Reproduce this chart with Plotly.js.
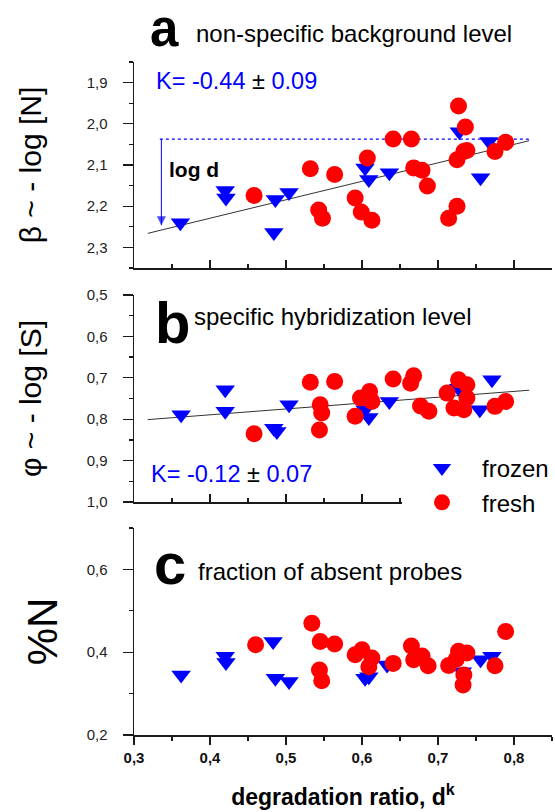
<!DOCTYPE html>
<html>
<head>
<meta charset="utf-8">
<script src="https://cdn.plot.ly/plotly-3.0.1.min.js"></script>
<style>html,body{margin:0;padding:0;background:#fff;}#chart{width:555px;height:812px;}</style>
</head>
<body>
<div id="chart"></div>
<script>
// ---------- data ----------
// panel a : beta ~ -log[N]
const xA_frozen = [0.361, 0.420, 0.421, 0.484, 0.486, 0.504, 0.604, 0.609, 0.636, 0.728, 0.756, 0.767];
const yA_frozen = [2.240, 2.162, 2.180, 2.264, 2.184, 2.167, 2.107, 2.135, 2.119, 2.019, 2.131, 2.043];
const xA_fresh = [0.458, 0.532, 0.564, 0.543, 0.548, 0.591, 0.599, 0.613, 0.607, 0.641, 0.665, 0.668, 0.679, 0.686, 0.714, 0.725, 0.727, 0.736, 0.725, 0.734, 0.738, 0.775, 0.789];
const yA_fresh = [2.174, 2.109, 2.123, 2.209, 2.229, 2.180, 2.214, 2.234, 2.083, 2.037, 2.037, 2.107, 2.113, 2.151, 2.229, 2.200, 1.957, 2.008, 2.087, 2.067, 2.065, 2.067, 2.045];
const fitX = [0.318, 0.820];
const fitA = [2.266, 2.041];
const refLineX = [0.334, 0.820];
const refLineY = [2.037, 2.037];
const arrowX = [0.336, 0.336];
const arrowY = [2.037, 2.246];

// panel b : phi ~ -log[S]
const xB_frozen = [0.362, 0.420, 0.420, 0.484, 0.488, 0.504, 0.604, 0.609, 0.636, 0.727, 0.755, 0.771];
const yB_frozen = [0.789, 0.729, 0.781, 0.822, 0.830, 0.765, 0.777, 0.796, 0.757, 0.725, 0.777, 0.705];
const xB_fresh = [0.458, 0.532, 0.564, 0.545, 0.547, 0.544, 0.591, 0.598, 0.610, 0.613, 0.641, 0.668, 0.664, 0.677, 0.688, 0.712, 0.727, 0.738, 0.721, 0.734, 0.738, 0.775, 0.789];
const yB_fresh = [0.835, 0.711, 0.709, 0.765, 0.785, 0.826, 0.793, 0.749, 0.733, 0.757, 0.703, 0.695, 0.713, 0.768, 0.781, 0.737, 0.705, 0.717, 0.773, 0.777, 0.749, 0.769, 0.757];
const fitB = [0.801, 0.730];

// panel c : %N
const xC_frozen = [0.362, 0.420, 0.421, 0.483, 0.486, 0.504, 0.604, 0.609, 0.633, 0.732, 0.756, 0.771];
const yC_frozen = [0.345, 0.390, 0.375, 0.426, 0.337, 0.329, 0.337, 0.341, 0.369, 0.353, 0.382, 0.390];
const xC_fresh = [0.460, 0.534, 0.545, 0.564, 0.544, 0.547, 0.591, 0.600, 0.613, 0.609, 0.641, 0.665, 0.668, 0.679, 0.687, 0.714, 0.727, 0.738, 0.724, 0.734, 0.733, 0.775, 0.789];
const yC_fresh = [0.418, 0.470, 0.426, 0.420, 0.357, 0.331, 0.394, 0.406, 0.386, 0.365, 0.373, 0.415, 0.382, 0.391, 0.367, 0.368, 0.402, 0.398, 0.383, 0.345, 0.321, 0.367, 0.450];

const seriesNames = ['frozen', 'fresh'];
const kTextA = 'K= -0.44 <span style="color:#000">±</span> 0.09';
const kTextB = 'K= -0.12 <span style="color:#000">±</span> 0.07';

// ---------- styles ----------
const FONT = 'Liberation Sans, Arial, sans-serif';
const BLUE = '#0000ff', RED = '#ff0000', AXC = '#1a1a1a';
const TRI = {symbol: 'triangle-down', size: 17, color: BLUE};
const CIR = {symbol: 'circle', size: 17, color: RED};

function fitTrace(x, y, ax) {
  return {x: x, y: y, xaxis: ax[0], yaxis: ax[1], mode: 'lines', line: {color: '#333', width: 1}, showlegend: false, hoverinfo: 'skip'};
}
function pts(x, y, ax, i, show) {
  return {x: x, y: y, xaxis: ax[0], yaxis: ax[1], mode: 'markers', name: seriesNames[i],
    legendgroup: seriesNames[i], showlegend: show, marker: i === 0 ? TRI : CIR};
}
const A = ['x', 'y'], B = ['x2', 'y2'], C = ['x3', 'y3'];

const traces = [
  fitTrace(fitX, fitA, A),
  {x: refLineX, y: refLineY, xaxis: 'x', yaxis: 'y', mode: 'lines', line: {color: BLUE, width: 1.2, dash: 'dot'}, showlegend: false, hoverinfo: 'skip'},
  {x: arrowX, y: arrowY, xaxis: 'x', yaxis: 'y', mode: 'lines+markers', line: {color: BLUE, width: 1},
    marker: {symbol: ['circle', 'arrow-down'], size: [0, 9], color: BLUE, line: {width: 0}}, showlegend: false, hoverinfo: 'skip'},
  pts(xA_frozen, yA_frozen, A, 0, true),
  pts(xA_fresh, yA_fresh, A, 1, true),
  fitTrace(fitX, fitB, B),
  pts(xB_frozen, yB_frozen, B, 0, false),
  pts(xB_fresh, yB_fresh, B, 1, false),
  pts(xC_frozen, yC_frozen, C, 0, false),
  pts(xC_fresh, yC_fresh, C, 1, false)
];

const H = 812;
function dom(topPx, botPx) { return [1 - botPx / H, 1 - topPx / H]; }

function xax(anchor, ticksDir, labels) {
  const a = {
    anchor: anchor, domain: [0, 1], range: [0.3, 0.85],
    showline: true, linecolor: AXC, linewidth: 1.5, mirror: false,
    showgrid: false, zeroline: false,
    tick0: 0.3, dtick: 0.1, ticks: ticksDir, ticklen: 8, tickwidth: 1.3, tickcolor: AXC,
    minor: {dtick: 0.05, tick0: 0.3, ticks: ticksDir, ticklen: 4, tickwidth: 1.3, tickcolor: AXC},
    showticklabels: labels, tickformat: '.1f',
    tickfont: {family: FONT, size: 15, color: '#111', weight: 'bold'},
    automargin: false
  };
  if (anchor !== 'y') a.matches = 'x';
  return a;
}
function yax(domain, range, tick0, dtick, minorD, title, tsize, standoff) {
  return {
    domain: domain, range: range, anchor: 'x',
    showline: true, linecolor: AXC, linewidth: 1.5,
    showgrid: false, zeroline: false,
    tick0: tick0, dtick: dtick, ticks: 'outside', ticklen: 10, tickwidth: 1.3, tickcolor: AXC,
    minor: {dtick: minorD, tick0: tick0, ticks: 'outside', ticklen: 4, tickwidth: 1.3, tickcolor: AXC},
    tickformat: '.1f', ticklabelstandoff: 12,
    tickfont: {family: FONT, size: 15, color: '#222'},
    title: {text: title, font: {family: FONT, size: tsize, color: '#000'}, standoff: standoff},
    automargin: false
  };
}

const xa3 = xax('y3', 'outside', true);
xa3.title = {text: 'degradation ratio, d<sup>k</sup>', font: {family: FONT, size: 23, color: '#000', weight: 'bold'}, standoff: 24};

function px(x) { return (x - 134) / 418; }
function py(y) { return 1 - y / H; }
function label(text, xPx, yPx, size, bold, color) {
  return {text: text, xref: 'paper', yref: 'paper', x: px(xPx), y: py(yPx), xanchor: 'left', yanchor: 'middle',
    showarrow: false, font: {family: FONT, size: size, color: color || '#000', weight: bold ? 'bold' : 'normal'}};
}

const layout = {
  width: 555, height: 812,
  margin: {l: 134, r: 3, t: 0, b: 0, pad: 0},
  paper_bgcolor: '#fff', plot_bgcolor: '#fff',
  separators: ',.',
  font: {family: FONT, color: '#000'},
  xaxis: xax('y', 'inside', false),
  xaxis2: xax('y2', 'inside', false),
  xaxis3: xa3,
  yaxis: yax(dom(62, 268), [2.35, 1.85], 1.9, 0.1, 0.05, 'β ~ - log [N]', 30, 36),
  yaxis2: Object.assign(yax(dom(295, 502), [1.0, 0.5], 0.5, 0.1, 0.05, 'φ ~ - log [S]', 30, 36), {anchor: 'x2'}),
  yaxis3: Object.assign(yax(dom(528, 735), [0.2, 0.7], 0.2, 0.2, 0.1, '%N', 42, 16), {anchor: 'x3'}),
  showlegend: true,
  legend: {x: px(402), y: py(446), xanchor: 'left', yanchor: 'top', bgcolor: '#fff', borderwidth: 0,
    itemwidth: 70, font: {family: FONT, size: 24, color: '#000'}, traceorder: 'normal'},
  annotations: [
    label('a', 148, 29, 51, true),
    label('non-specific background level', 194, 33.7, 24, false),
    label('b', 153, 322, 58, true),
    label('specific hybridization level', 192, 316.7, 24, false),
    label('c', 152, 563, 58, true),
    label('fraction of absent probes', 196, 571.7, 24, false),
    label(kTextA, 154, 80.9, 23.5, false, BLUE),
    label(kTextB, 149, 473.6, 23.5, false, BLUE),
    label('log d', 167, 169.4, 21, true)
  ]
};

Plotly.newPlot('chart', traces, layout, {displayModeBar: false, staticPlot: true});
</script>
</body>
</html>
